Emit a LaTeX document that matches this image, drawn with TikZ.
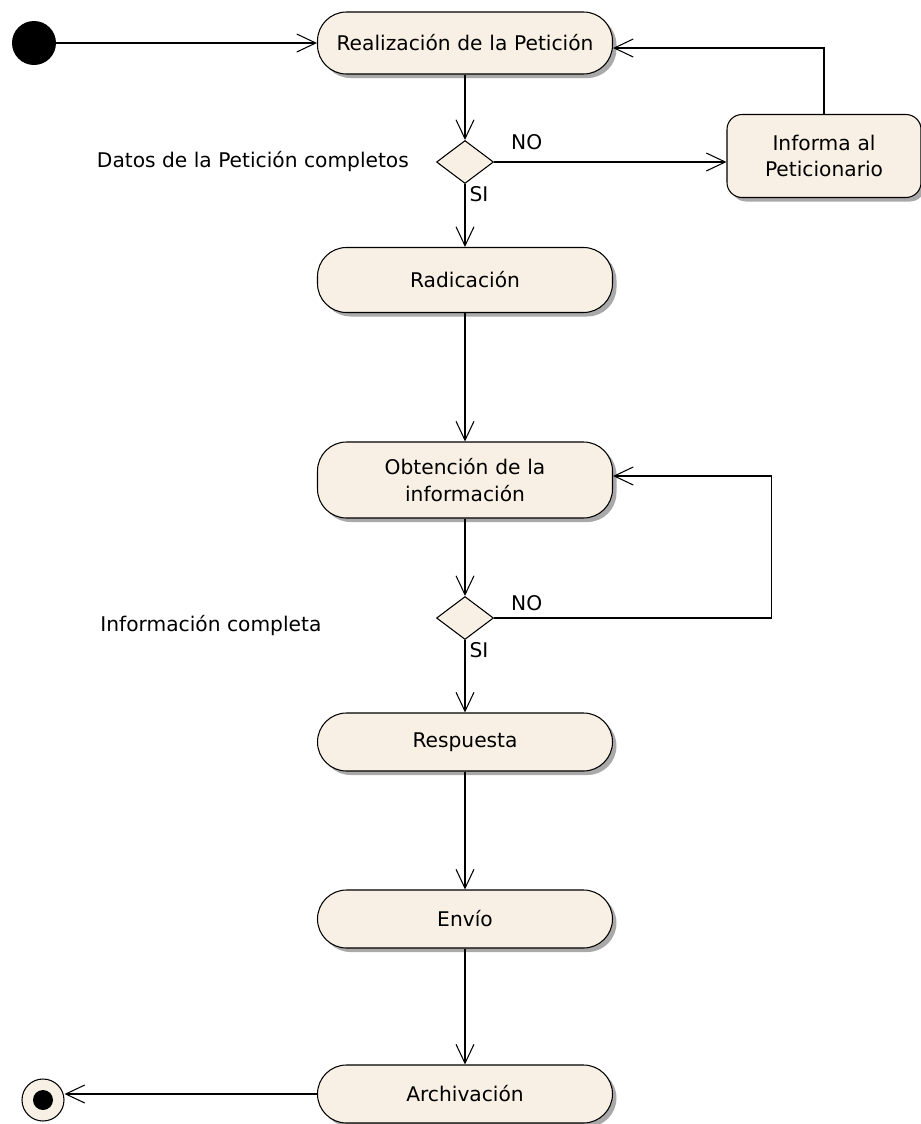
\documentclass[tikz,border=0pt]{standalone}
\usepackage{fontspec}
\setmainfont{DejaVu Sans}
\usepackage{xcolor}
\usepackage{tikz}
\usetikzlibrary{
    arrows.meta,
    calc,
    positioning,
    shadows,
    shapes.geometric
}
\definecolor{actfill}{HTML}{F8F0E4}
\definecolor{actshadow}{HTML}{A0A0A0}
\tikzstyle{arrow}=[line width=0.6pt,-{Straight Barb[length=0.38cm,width=0.36cm,line width=0.6pt]},draw=black]

\begin{document}
\begin{tikzpicture}[
    font=\fontsize{11.5}{15}\selectfont,
    act/.style={
        rectangle,
        rounded corners=0.58cm,
        draw=black,
        line width=0.6pt,
        fill=actfill,
        drop shadow={shadow xshift=0.08cm,shadow yshift=-0.08cm,fill=actshadow,opacity=0.9},
        text width=5.4cm,
        minimum width=5.9cm,
        minimum height=1.2cm,
        align=center
    },
    decision/.style={
        diamond,
        draw=black,
        line width=0.6pt,
        fill=actfill,
        inner sep=0pt,
        minimum width=1.14cm,
        minimum height=0.86cm
    },
    guard/.style={inner sep=1pt}
]
\useasboundingbox (0,0) rectangle (18.42,-22.48);

\node[circle,fill=black,minimum size=0.88cm,inner sep=0pt] (start) at (0.68,-0.86) {};
\node[act,minimum height=1.24cm] (realiza) at (9.30,-0.86) {Realización de la Petición};
\node[decision] (datos) at (9.30,-3.24) {};
\node[act,rounded corners=0.3cm,text width=3.4cm,minimum width=3.88cm,minimum height=1.66cm]
    (informa) at (16.48,-3.12) {Informa al\\Peticionario};
\node[act,minimum height=1.3cm] (radica) at (9.30,-5.60) {Radicación};
\node[act,minimum height=1.52cm] (obten) at (9.30,-9.60) {Obtención de la\\información};
\node[decision] (infocomp) at (9.30,-12.36) {};
\node[act,minimum height=1.16cm] (respu) at (9.30,-14.84) {Respuesta};
\node[act,minimum height=1.16cm] (envio) at (9.30,-18.38) {Envío};
\node[act,minimum height=1.16cm] (archiva) at (9.30,-21.88) {Archivación};
\node[circle,draw=black,line width=0.6pt,fill=actfill,minimum size=0.84cm,inner sep=0pt] (fin) at (0.86,-22.00) {};
\node[circle,fill=black,minimum size=0.4cm,inner sep=0pt] (findot) at (fin) {};

% guardas
\node[guard,left=0.5cm of datos] (datoslbl) {Datos de la Petición completos};
\node[guard,above right=0.2cm and 0.3cm of datos.east] (datosno) {NO};
\node[guard,below right=0.0cm and 0.05cm of datos.south] (datossi) {SI};
\node[guard,left=2.25cm of infocomp,yshift=-0.16cm] (infolbl) {Información completa};
\node[guard,above right=0.1cm and 0.3cm of infocomp.east] (infono) {NO};
\node[guard,below right=0.0cm and 0.05cm of infocomp.south] (infosi) {SI};

\draw[arrow] (start) -- (realiza);
\draw[arrow] (realiza) -- (datos);
\draw[arrow] (datos.east) -- (datos.east -| informa.west);
\draw[arrow] (informa.north) |- ([yshift=-0.1cm]realiza.east);
\draw[arrow] (datos) -- (radica);
\draw[arrow] (radica) -- (obten);
\draw[arrow] (obten) -- (infocomp);
\draw[arrow] (infocomp.east) -- ++(5.54,0) |- ([yshift=0.08cm]obten.east);
\draw[arrow] (infocomp) -- (respu);
\draw[arrow] (respu) -- (envio);
\draw[arrow] (envio) -- (archiva);
\draw[arrow] (archiva.west) -- (archiva.west -| fin.east);
\end{tikzpicture}
\end{document}
